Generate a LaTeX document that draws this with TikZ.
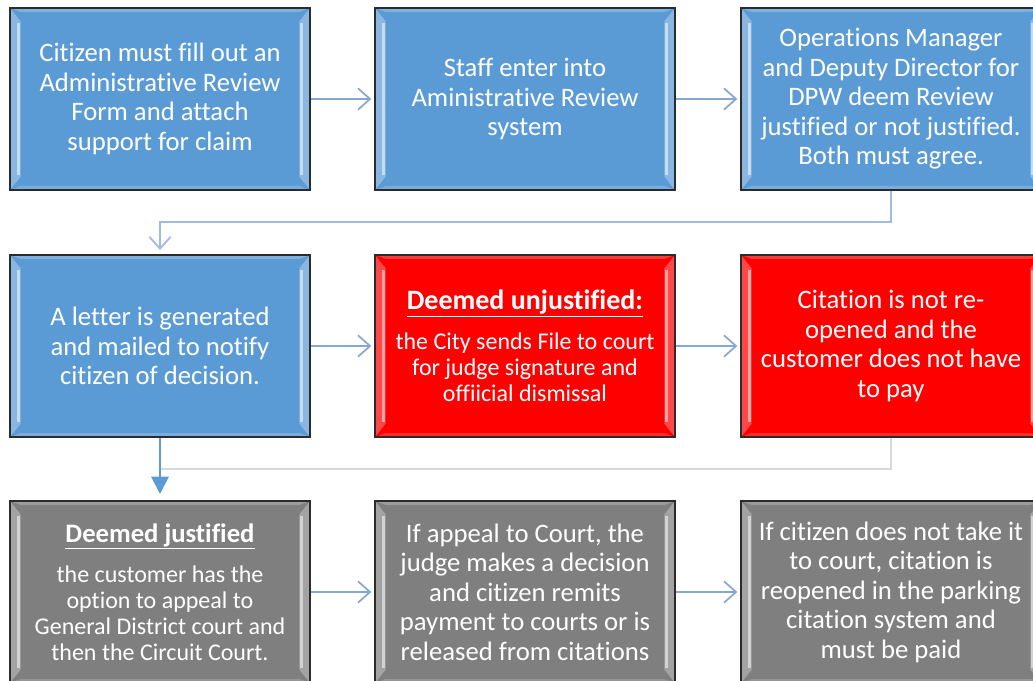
\documentclass[tikz,border=0pt]{standalone}
\usepackage{fontspec}
\setmainfont[Ligatures={NoCommon}]{Carlito}
\usetikzlibrary{arrows.meta,calc}
\definecolor{boxblue}{HTML}{5B9BD5}
\definecolor{boxred}{HTML}{FF0000}
\definecolor{boxgray}{HTML}{7F7F7F}
\definecolor{conn}{HTML}{86A8D0}
\definecolor{connL}{HTML}{9DBCDF}
\definecolor{connD}{HTML}{5B9BD5}
\definecolor{connG}{HTML}{D9D9D9}
\definecolor{edgecol}{HTML}{2B2B2B}
\newcommand\bevelfx[1]{%
  \coordinate (pNW) at (path picture bounding box.north west);
  \coordinate (pNE) at (path picture bounding box.north east);
  \coordinate (pSW) at (path picture bounding box.south west);
  \coordinate (pSE) at (path picture bounding box.south east);
  \fill[#1!78!white] (pNW) -- (pNE) -- ($(pNE)+(-8pt,-3pt)$) -- ($(pNW)+(8pt,-3pt)$) -- cycle;
  \fill[#1!82!white] (pSW) -- (pSE) -- ($(pSE)+(-8pt,3pt)$) -- ($(pSW)+(8pt,3pt)$) -- cycle;
  \fill[#1!72!white] (pNW) -- ($(pNW)+(8pt,-10pt)$) -- ($(pSW)+(8pt,10pt)$) -- (pSW) -- cycle;
  \fill[#1!72!white] (pNE) -- ($(pNE)+(-8pt,-10pt)$) -- ($(pSE)+(-8pt,10pt)$) -- (pSE) -- cycle;
  \draw[#1!35!white, line width=2.2pt] ($(pNW)+(6.5pt,-11pt)$) -- ($(pSW)+(6.5pt,11pt)$);
  \draw[#1!35!white, line width=2.2pt] ($(pNE)+(-6.5pt,-11pt)$) -- ($(pSE)+(-6.5pt,11pt)$);
}
\tikzset{
  stepbox/.style={draw=edgecol, line width=1.5pt, minimum width=225pt, minimum height=136.5pt,
    inner sep=0pt, text=white, align=center, font=\fontsize{20}{22.1}\selectfont},
  bluebox/.style={stepbox, fill=boxblue, path picture={\bevelfx{boxblue}}},
  redbox/.style={stepbox, fill=boxred, path picture={\bevelfx{boxred}}},
  graybox/.style={stepbox, fill=boxgray, path picture={\bevelfx{boxgray}}},
  smalltext/.style={font=\fontsize{18}{19.6}\selectfont},
  flow/.style={draw=conn, line width=1.5pt, shorten >=2pt,
    -{Straight Barb[length=9pt,width=16pt,line width=1.3pt]}},
  flowL/.style={flow, draw=connL},
  flowD/.style={draw=connD, line width=1.5pt, shorten >=4.5pt,
    -{Triangle[length=13pt,width=13pt]}},
  grayline/.style={draw=connG, line width=2pt},
}
\newcommand\ttl[2]{{\fontsize{#1}{22}\selectfont\bfseries\underline{#2}}}
\begin{document}
\begin{tikzpicture}[x=0.75pt,y=-0.75pt]
\useasboundingbox (0,0) rectangle (1033,681);
\clip (0,0) rectangle (1033,681);
\fill[white] (0,0) rectangle (1033,681);
% row 1
\node[bluebox] (a1) at (160,99) {Citizen must fill out an\\Administrative Review\\Form and attach\\support for claim};
\node[bluebox] (a2) at (525,99) {Staff enter into\\Aministrative Review\\system};
\node[bluebox] (a3) at (891,99) {Operations Manager\\and Deputy Director for\\DPW deem Review\\justified or not justified.\\Both must agree.};
% row 2
\node[bluebox] (b1) at (160,346) {A letter is generated\\and mailed to notify\\citizen of decision.};
\node[redbox, smalltext] (b2) at (525,346) {\ttl{21}{Deemed unjustified:}\\[10.4pt]the City sends File to court\\for judge signature and\\offiicial dismissal};
\node[redbox] (b3) at (891,346) {Citation is not re-\\opened and the\\customer does not have\\to pay};
% row 3
\node[graybox, smalltext] (c1) at (160,592) {\ttl{20}{Deemed justified}\\[10.4pt]the customer has the\\option to appeal to\\General District court and\\then the Circuit Court.};
\node[graybox] (c2) at (525,592) {If appeal to Court, the\\judge makes a decision\\and citizen remits\\payment to courts or is\\released from citations};
\node[graybox] (c3) at (891,592) {If citizen does not take it\\to court, citation is\\reopened in the parking\\citation system and\\must be paid};
% connectors
\draw[flow] (a1.east) -- (a2.west);
\draw[flow] (a2.east) -- (a3.west);
\draw[flowL, shorten >=3pt] (a3.south) -- ++(0,31) -| (b1.north);
\draw[flow] (b1.east) -- (b2.west);
\draw[flow] (b2.east) -- (b3.west);
\path (b3.south) ++(0,31) coordinate (g1);
\draw[grayline] (b3.south) -- (g1) -- (g1 -| b1.south);
\draw[flowD] (b1.south) -- (c1.north);
\draw[flow] (c1.east) -- (c2.west);
\draw[flow] (c2.east) -- (c3.west);
\end{tikzpicture}
\end{document}
